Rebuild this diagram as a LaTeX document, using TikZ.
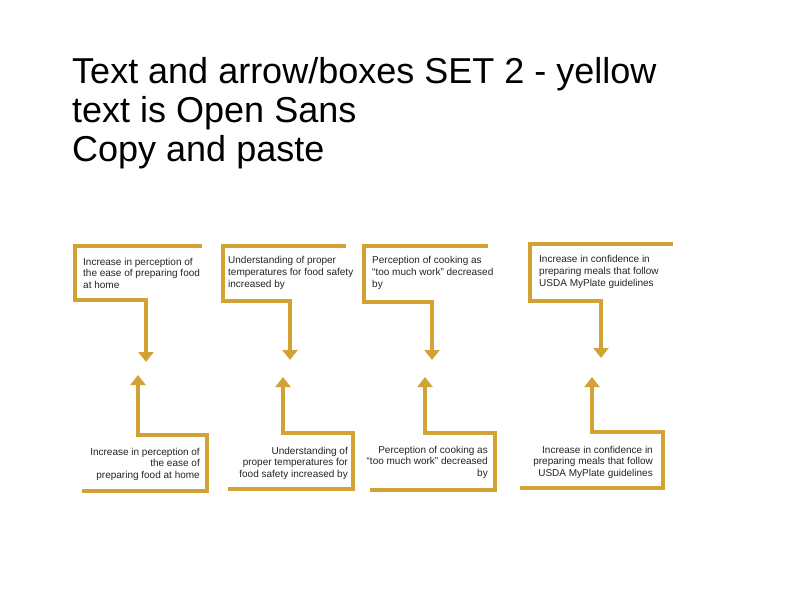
\documentclass[tikz,border=0pt]{standalone}
\usepackage{fontspec}
\setmainfont{Liberation Sans}
\usetikzlibrary{arrows.meta}
\definecolor{gold}{RGB}{210,163,52}
\definecolor{txt}{RGB}{35,35,35}
\tikzset{
  bracket/.style={draw=gold, line width=3.4pt, line join=miter, line cap=butt,
    -{Triangle[width=15pt,length=10pt]}},
  small/.style={font=\fontsize{10}{11.8}\selectfont, text=txt, inner sep=0pt},
  lefttext/.style={small, anchor=base west, align=left},
  righttext/.style={small, anchor=base east, align=right},
}
\begin{document}
\begin{tikzpicture}[x=1pt,y=-1pt]
\useasboundingbox (0,0) rectangle (792,612);
% title (anchor = baseline of last line)
\node[anchor=base west, inner sep=0pt, align=left, font=\fontsize{36}{39}\selectfont] (title) at (72,161.5)
  {Text and arrow/boxes SET 2 - yellow\\text is Open Sans\\Copy and paste};

% top shapes
\draw[bracket] (202,246) -- (75,246) -- (75,300) -- (146,300) -- (146,362);
\draw[bracket] (346,246) -- (223,246) -- (223,301) -- (290,301) -- (290,360);
\draw[bracket] (488,246) -- (364,246) -- (364,302) -- (432,302) -- (432,360);
\draw[bracket] (673,244) -- (530,244) -- (530,301) -- (601,301) -- (601,358);

% bottom shapes
\draw[bracket] (82,491) -- (207,491) -- (207,435) -- (138,435) -- (138,375);
\draw[bracket] (228,489) -- (353,489) -- (353,433) -- (283,433) -- (283,377);
\draw[bracket] (370,490) -- (495,490) -- (495,433) -- (425,433) -- (425,377);
\draw[bracket] (520,488) -- (663,488) -- (663,432) -- (592,432) -- (592,377);

% top texts (anchor = baseline of last line)
\node[lefttext] (t1) at (83,288.6) {Increase in perception of\\the ease of preparing food\\at home};
\node[lefttext] (t2) at (228,287.6) {Understanding of proper\\temperatures for food safety\\increased by};
\node[lefttext] (t3) at (372,287.6) {Perception of cooking as\\``too much work'' decreased\\by};
\node[lefttext] (t4) at (539,286.6) {Increase in confidence in\\preparing meals that follow\\USDA MyPlate guidelines};

% bottom texts
\node[righttext] (b1) at (200,478.6) {Increase in perception of\\the ease of\\preparing food at home};
\node[righttext] (b2) at (348,477.6) {Understanding of\\proper temperatures for\\food safety increased by};
\node[righttext] (b3) at (488,476.6) {Perception of cooking as\\``too much work'' decreased\\by};
\node[righttext] (b4) at (653,476.6) {Increase in confidence in\\preparing meals that follow\\USDA MyPlate guidelines};
\end{tikzpicture}
\end{document}
